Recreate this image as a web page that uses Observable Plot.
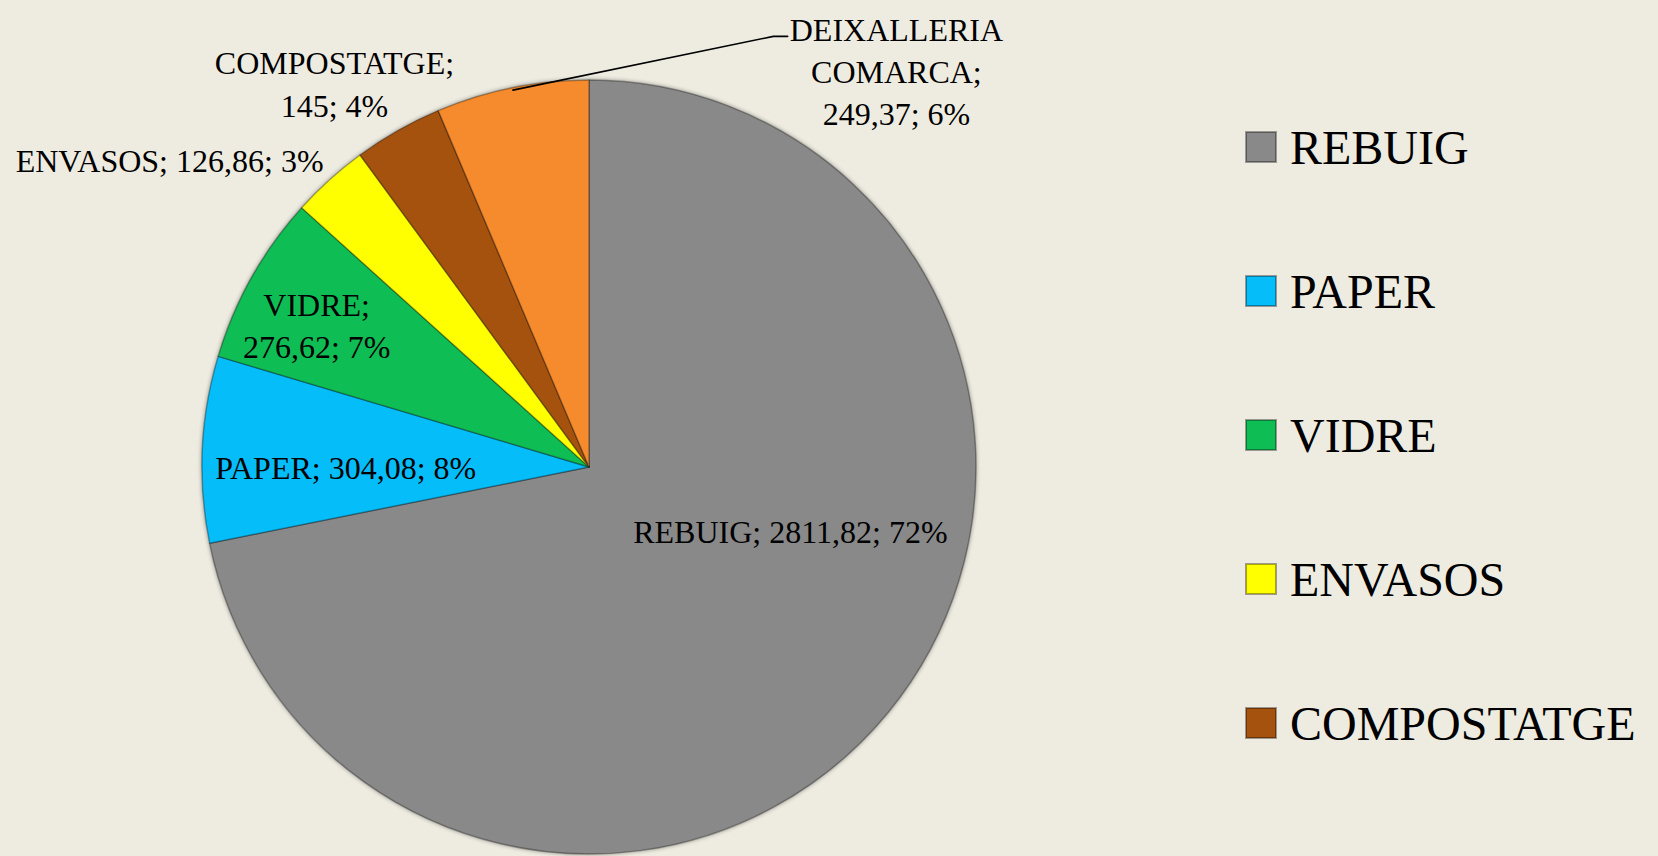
<!DOCTYPE html>
<html><head><meta charset="utf-8">
<script src="https://cdn.jsdelivr.net/npm/d3@7"></script>
<script src="https://cdn.jsdelivr.net/npm/@observablehq/plot@0.6"></script>
<style>
html,body{margin:0;padding:0;background:#EEECE1;overflow:hidden;}
#chart{position:relative;width:1658px;height:856px;}
#legend{position:absolute;left:1246px;top:75px;width:412px;}
.lg-swatches{font-family:"Liberation Serif",serif;font-size:48px;color:#000;margin:0;}
.lg-swatch{height:144px;padding:0;}
.lg-swatch > svg{margin-right:14px;}
.lg-swatch rect{stroke:rgba(0,0,0,0.35);stroke-width:2px;}
.lg-swatch-label{overflow:visible;}
.slices{filter:drop-shadow(0 0 2px rgba(0,0,0,0.45));}
</style></head>
<body><div id="chart"><div id="legend"></div></div>
<script>
// ---- data ----
const categories = ["REBUIG", "PAPER", "VIDRE", "ENVASOS", "COMPOSTATGE", "DEIXALLERIA COMARCA"];
const values = [2811.82, 304.08, 276.62, 126.86, 145, 249.37];
const colors = ["#898989", "#05BDF9", "#0FBD55", "#FFFF00", "#A5520F", "#F58B2C"];
// legend entries visible in the original (the last one falls outside the chart area)
const legendCategories = ["REBUIG", "PAPER", "VIDRE", "ENVASOS", "COMPOSTATGE"];

// ---- layout (label anchors in pie-radius units, wrapping mode) ----
const labelLayout = [
  {x: 0.519, y: -0.160, wrap: 0},
  {x: -0.630, y: 0.005, wrap: 0},
  {x: -0.705, y: 0.373, wrap: 1},
  {x: -1.085, y: 0.798, wrap: 0},
  {x: -0.659, y: 0.996, wrap: 1},
  {x: 0.793, y: 1.028, wrap: 2}
];
const leaderElbow = [{x: 0.475, y: 1.114}, {x: 0.512, y: 1.114}];

const data = categories.map((name, i) => ({name, value: values[i]}));
const total = d3.sum(values);
const fmt = v => String(v).replace(".", ",");
const labelText = (d, wrap) => {
  const pct = Math.round(d.value / total * 100) + "%";
  if (wrap === 0) return `${d.name}; ${fmt(d.value)}; ${pct}`;
  if (wrap === 1) return `${d.name};\n${fmt(d.value)}; ${pct}`;
  return `${d.name.replace(/ /g, "\n")};\n${fmt(d.value)}; ${pct}`;
};

const arcs = d3.pie().sort(null).value(d => d.value)(data);
const labels = data.map((d, i) => ({text: labelText(d, labelLayout[i].wrap), x: labelLayout[i].x, y: labelLayout[i].y}));

const last = arcs[arcs.length - 1];
const mid = (last.startAngle + last.endAngle) / 2;
const leader = [{x: 0.995 * Math.sin(mid), y: 0.995 * Math.cos(mid)}, ...leaderElbow];

// pie slices drawn through the plot's x/y/color scales
function renderPie(index, scales, values, dimensions) {
  const cx = scales.x(0), cy = scales.y(0);
  const R = scales.x(1) - scales.x(0);
  const arc = d3.arc().innerRadius(0).outerRadius(R);
  const g = d3.create("svg:g").attr("class", "slices").attr("transform", `translate(${cx},${cy})`);
  for (const i of index) {
    const a = arcs[i];
    g.append("path")
      .attr("d", arc({startAngle: a.startAngle, endAngle: a.endAngle}))
      .attr("fill", values.fill[i])
      .attr("stroke", "rgba(0,0,0,0.3)")
      .attr("stroke-width", 1.5)
      .attr("stroke-linejoin", "round");
  }
  return g.node();
}

const cx = 589, cy = 467, R = 387;
const chart = Plot.plot({
  width: 1658,
  height: 856,
  margin: 0,
  style: {background: "transparent", overflow: "visible"},
  x: {domain: [-1, 1], range: [cx - R, cx + R], axis: null},
  y: {domain: [-1, 1], range: [cy + R, cy - R], axis: null},
  color: {type: "ordinal", domain: categories, range: colors},
  marks: [
    Plot.dot(arcs, {x: () => 0, y: () => 0, fill: d => d.data.name, render: renderPie}),
    Plot.line(leader, {x: "x", y: "y", stroke: "#000", strokeWidth: 1.6}),
    Plot.text(labels, {x: "x", y: "y", text: "text", fontFamily: "Liberation Serif", fontSize: 32, lineHeight: 1.32, lineAnchor: "middle", textAnchor: "middle", fill: "#000"})
  ]
});
document.getElementById("chart").insertBefore(chart, document.getElementById("legend"));

const legend = Plot.legend({
  color: {type: "ordinal", domain: legendCategories, range: legendCategories.map(c => colors[categories.indexOf(c)])},
  legend: "swatches",
  columns: 1,
  swatchSize: 30,
  className: "lg"
});
document.getElementById("legend").appendChild(legend);
</script>
</body></html>
